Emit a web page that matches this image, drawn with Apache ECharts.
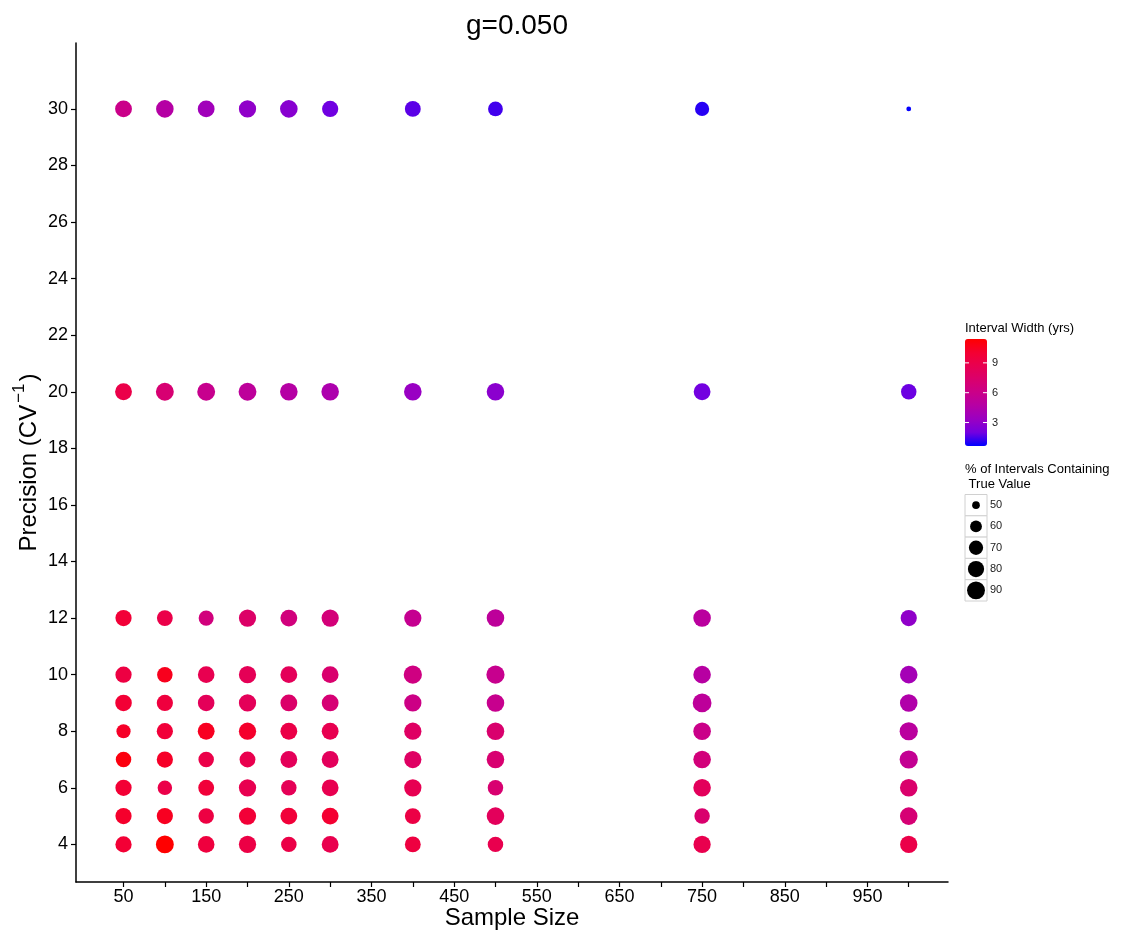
<!DOCTYPE html>
<html>
<head>
<meta charset="utf-8">
<script src="https://cdn.jsdelivr.net/npm/echarts@6/dist/echarts.min.js"></script>
<style>html,body{margin:0;padding:0;background:#fff;}#c{width:1141px;height:934px;}</style>
</head>
<body>
<div id="c"></div>
<script>
// ---- data ----
const sampleSizes = [50, 100, 150, 200, 250, 300, 400, 500, 750, 1000];
const precisions = [4, 5, 6, 7, 8, 9, 10, 12, 20, 30];
// Interval width (yrs), one row per precision, columns follow sampleSizes
const widthP4  = [9.9, 11.4, 9.5, 9.2, 9.1, 8.8, 9.4, 8.8, 8.8, 9.0];
const widthP5  = [10.2, 10.5, 9.3, 9.8, 9.7, 10.0, 9.2, 8.2, 7.3, 7.0];
const widthP6  = [9.9, 9.0, 9.7, 8.7, 8.4, 8.7, 8.6, 7.2, 8.2, 7.4];
const widthP7  = [11.0, 10.3, 9.0, 8.8, 8.3, 8.2, 7.8, 7.2, 6.7, 5.6];
const widthP8  = [10.3, 9.7, 10.5, 10.2, 9.1, 8.7, 7.8, 7.3, 6.0, 5.0];
const widthP9  = [9.9, 9.5, 8.3, 8.3, 7.5, 7.0, 6.2, 5.8, 5.2, 4.5];
const widthP10 = [9.3, 10.6, 8.7, 8.4, 8.3, 7.3, 6.4, 5.8, 4.8, 3.9];
const widthP12 = [9.8, 9.0, 6.6, 7.6, 6.6, 6.8, 5.7, 5.2, 5.0, 3.0];
const widthP20 = [9.0, 7.1, 5.8, 5.2, 4.7, 4.3, 3.3, 2.8, 2.0, 1.9];
const widthP30 = [6.0, 4.7, 3.7, 3.0, 2.7, 1.95, 1.7, 1.4, 1.1, 0.7];
// % of intervals containing true value
const pctP4  = [80, 90, 82, 86, 76, 83.5, 78, 76, 86, 86];
const pctP5  = [80, 80, 76, 86, 83.5, 83.5, 78, 88, 76, 88];
const pctP6  = [80, 71, 78, 86, 76, 83.5, 86, 76, 88, 88];
const pctP7  = [76, 80, 76, 78, 83.5, 83.5, 86, 88, 88, 92];
const pctP8  = [69.6, 80, 83.5, 86, 83.5, 83.5, 86, 88, 88, 92];
const pctP9  = [82, 80, 82, 86, 83.5, 83.5, 86, 88, 96, 88];
const pctP10 = [80, 76, 82, 86, 83.5, 83.5, 92, 92, 88, 88];
const pctP12 = [80, 78, 74, 86, 83.5, 86, 86, 88, 88, 80];
const pctP20 = [83.5, 90, 90, 90, 88, 88, 88, 88, 83.5, 76];
const pctP30 = [83.5, 88, 83.5, 86, 88, 80, 78, 72.5, 69.6, 48];
const xTicks = [50,100,150,200,250,300,350,400,450,500,550,600,650,700,750,800,850,900,950,1000];
const xLabels = [50,150,250,350,450,550,650,750,850,950];
const yTicks = [4,6,8,10,12,14,16,18,20,22,24,26,28,30];
const colorTicks = [3, 6, 9];
const sizeBreaks = [50, 60, 70, 80, 90];

const widthRows = [widthP4, widthP5, widthP6, widthP7, widthP8, widthP9, widthP10, widthP12, widthP20, widthP30];
const pctRows = [pctP4, pctP5, pctP6, pctP7, pctP8, pctP9, pctP10, pctP12, pctP20, pctP30];

const points = [];
precisions.forEach((p, i) => {
  sampleSizes.forEach((n, j) => {
    points.push([n, p, widthRows[i][j], pctRows[i][j]]);
  });
});

const wMin = 0.64, wMax = 11.4;
const gradColors = ['#0000FF','#7300E0','#9A00C2','#B500A5','#CA0089','#DA006C','#E80050','#F40031','#FF0000'];
function sizeOf(v) { return 4.8 + 2.02 * Math.sqrt(Math.max(0, v - 48)); }

const FONT = '"Liberation Sans", Arial, sans-serif';

// colourbar geometry
const cbLeft = 965, cbTop = 339, cbW = 22, cbH = 107;
const graphics = [];
graphics.push({ type: 'text', left: 965, top: 322, style: { text: 'Interval Width (yrs)', font: '13px ' + FONT, fill: '#000' } });
colorTicks.forEach(t => {
  const y = cbTop + (wMax - t) / (wMax - wMin) * cbH;
  graphics.push({ type: 'line', shape: { x1: cbLeft, y1: y, x2: cbLeft + 4, y2: y }, style: { stroke: '#fff', lineWidth: 1 }, z: 100 });
  graphics.push({ type: 'line', shape: { x1: cbLeft + cbW - 4, y1: y, x2: cbLeft + cbW, y2: y }, style: { stroke: '#fff', lineWidth: 1 }, z: 100 });
  graphics.push({ type: 'text', x: cbLeft + cbW + 5, y: y, style: { text: String(t), font: '11px ' + FONT, fill: '#222', verticalAlign: 'middle' } });
});
graphics.push({ type: 'text', left: 965, top: 462, style: { text: '% of Intervals Containing\n True Value', font: '13px ' + FONT, fill: '#000', lineHeight: 15 } });
const keyTop = 494.5, keyH = 21.3;
sizeBreaks.forEach((b, i) => {
  const y0 = keyTop + i * keyH;
  graphics.push({ type: 'rect', shape: { x: 965, y: y0, width: 22, height: keyH }, style: { fill: '#fff', stroke: '#D0D0D0', lineWidth: 1 } });
  graphics.push({ type: 'circle', shape: { cx: 976, cy: y0 + keyH / 2, r: sizeOf(b) / 2 }, style: { fill: '#000' }, z: 101 });
  graphics.push({ type: 'text', x: 990, y: y0 + keyH / 2, style: { text: String(b), font: '11px ' + FONT, fill: '#222', verticalAlign: 'middle' } });
});

const chart = echarts.init(document.getElementById('c'), null, { renderer: 'canvas' });
chart.setOption({
  backgroundColor: '#fff',
  animation: false,
  title: {
    text: 'g=0.050', left: 512, top: 7, textAlign: 'center',
    textStyle: { fontFamily: FONT, fontSize: 28, fontWeight: 'normal', color: '#000' }
  },
  grid: { left: 76, right: 193, top: 43, bottom: 52, containLabel: false, outerBoundsMode: 'none' },
  xAxis: {
    type: 'value', min: -7.5, max: 1047.5,
    name: 'Sample Size', nameLocation: 'middle', nameGap: 24, nameMoveOverlap: false,
    nameTextStyle: { fontFamily: FONT, fontSize: 24, color: '#000' },
    axisLine: { show: true, onZero: false, lineStyle: { color: '#000', width: 1.5 } },
    axisTick: { show: true, length: 5, customValues: xTicks, lineStyle: { color: '#000', width: 1.2 } },
    axisLabel: { customValues: xLabels, margin: 6, fontFamily: FONT, fontSize: 18, color: '#000' },
    splitLine: { show: false }
  },
  yAxis: {
    type: 'value', min: 2.67, max: 32.33,
    name: '{a|Precision (CV}{b|−1}{a|)}', nameLocation: 'middle', nameGap: 35, nameRotate: 90, nameMoveOverlap: false,
    nameTextStyle: {
      fontFamily: FONT, fontSize: 24, color: '#000',
      rich: {
        a: { fontFamily: FONT, fontSize: 24, color: '#000', lineHeight: 30, verticalAlign: 'bottom' },
        b: { fontFamily: FONT, fontSize: 17, color: '#000', lineHeight: 30, verticalAlign: 'top', padding: [0, 2, 0, 2] }
      }
    },
    axisLine: { show: true, onZero: false, lineStyle: { color: '#000', width: 1.5 } },
    axisTick: { show: true, length: 5, customValues: yTicks, lineStyle: { color: '#000', width: 1.2 } },
    axisLabel: { customValues: yTicks, margin: 8, fontFamily: FONT, fontSize: 18, color: '#000' },
    splitLine: { show: false }
  },
  visualMap: {
    type: 'continuous', dimension: 2, min: wMin, max: wMax,
    inRange: { color: gradColors },
    orient: 'vertical', left: cbLeft, top: cbTop, itemWidth: cbW, itemHeight: cbH,
    padding: 0, calculable: false, text: null, showLabel: false, hoverLink: false,
    seriesIndex: 0
  },
  series: [{
    type: 'scatter',
    data: points,
    symbol: 'circle',
    symbolSize: function (val) { return sizeOf(val[3]); },
    itemStyle: { opacity: 1 },
    emphasis: { disabled: true }
  }],
  graphic: graphics
});
</script>
</body>
</html>
